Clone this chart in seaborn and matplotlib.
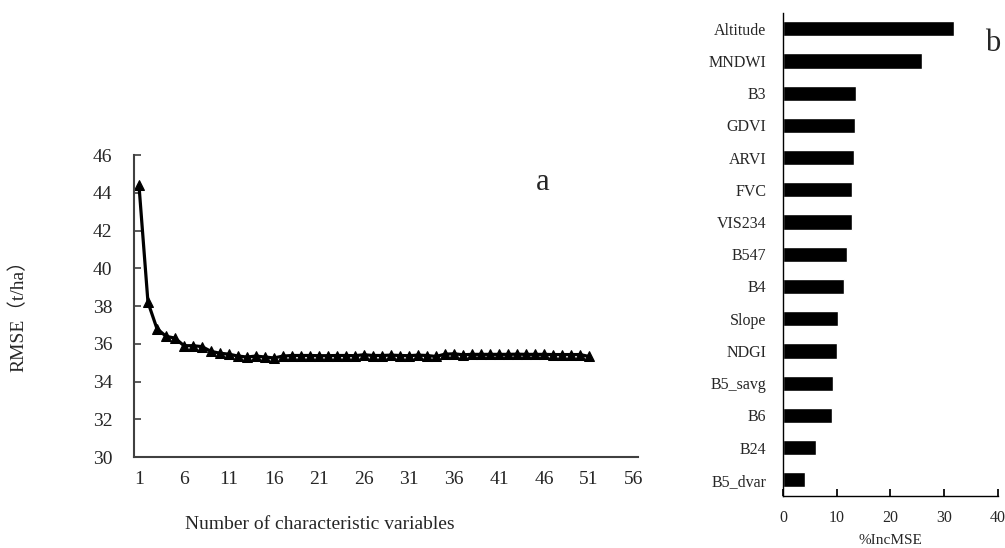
import numpy as np
import pandas as pd
import matplotlib
matplotlib.use("Agg")
import matplotlib.pyplot as plt
from matplotlib.ticker import FixedLocator
import seaborn as sns

# ---- data ----
n_vars = list(range(1, 52))
rmse = [44.4, 38.2, 36.8, 36.4, 36.3, 35.9, 35.9, 35.85, 35.6, 35.5,
        35.45, 35.35, 35.3, 35.35, 35.3, 35.25, 35.35, 35.38, 35.38, 35.38,
        35.37, 35.37, 35.38, 35.38, 35.37, 35.42, 35.38, 35.38, 35.4, 35.38,
        35.37, 35.4, 35.38, 35.33, 35.45, 35.47, 35.42, 35.44, 35.44, 35.44,
        35.44, 35.44, 35.45, 35.44, 35.44, 35.44, 35.43, 35.43, 35.43, 35.43,
        35.33]
variables = ["Altitude", "MNDWI", "B3", "GDVI", "ARVI", "FVC", "VIS234", "B547",
             "B4", "Slope", "NDGI", "B5_savg", "B6", "B24", "B5_dvar"]
inc_mse = [31.8, 25.8, 13.6, 13.4, 13.2, 12.8, 12.8, 12.0,
           11.4, 10.2, 10.0, 9.4, 9.2, 6.2, 4.1]
x_ticks = list(range(1, 57, 5))
y_ticks = list(range(30, 47, 2))
bar_ticks = [0, 10, 20, 30, 40]

sns.set_theme(style="white")
plt.rcParams['font.family'] = ['Liberation Serif', 'Noto Sans CJK SC', 'DejaVu Sans']

fig = plt.figure(figsize=(10.05, 5.48), dpi=100)
ax1 = fig.add_axes([0.1338, 0.166, 0.5015, 0.551])
ax2 = fig.add_axes([0.779, 0.095, 0.214, 0.882])

# ---- line chart ----
df_line = pd.DataFrame({"n": n_vars, "rmse": rmse})
sns.lineplot(data=df_line, x="n", y="rmse", ax=ax1, color="black", linewidth=2.3,
             marker="^", markersize=6.5, markeredgecolor="black")
ax1.set_xlim(0.5, 56.5)
ax1.set_ylim(30, 46)
ax1.set_xticks(x_ticks)
ax1.set_xticklabels([str(t) for t in x_ticks], fontsize=14)
ax1.xaxis.set_minor_locator(FixedLocator([t + 4.5 for t in x_ticks]))
ax1.tick_params(axis="x", which="major", length=0, pad=10)
ax1.tick_params(axis="x", which="minor", length=5, direction="in", color="#404040", width=1.2)
ax1.set_yticks(y_ticks)
ax1.set_yticklabels([str(t) for t in y_ticks], fontsize=14)
ax1.tick_params(axis="y", length=5, direction="in", color="#404040", width=1.2, left=True, pad=16)
for s in ["top", "right"]:
    ax1.spines[s].set_visible(False)
for s in ["left", "bottom"]:
    ax1.spines[s].set_color("#404040")
    ax1.spines[s].set_linewidth(1.5)
ax1.set_xlabel("")
ax1.set_ylabel("")
fig.text(0.318, 0.042, "Number of characteristic variables", ha="center", va="center", fontsize=14)
fig.text(0.018, 0.432, "RMSE（t/ha）", rotation=90, ha="center", va="center", fontsize=14)
fig.text(0.540, 0.667, "a", ha="center", va="center", fontsize=22)

# ---- bar chart ----
df_bar = pd.DataFrame({"var": variables, "inc": inc_mse})
sns.barplot(data=df_bar, x="inc", y="var", order=variables, ax=ax2, color="black",
            orient="h", width=0.47, saturation=1)
ax2.set_xlim(0, 40)
ax2.set_ylim(14.5, -0.5)
ax2.set_xticks(bar_ticks)
ax2.set_xticklabels([str(t) for t in bar_ticks], fontsize=11.5)
ax2.tick_params(axis="x", length=5, direction="in", color="black", bottom=True, pad=10)
ax2.tick_params(axis="y", length=0, labelsize=11.5, pad=12)
for s in ["top", "right"]:
    ax2.spines[s].set_visible(False)
for s in ["left", "bottom"]:
    ax2.spines[s].set_color("black")
    ax2.spines[s].set_linewidth(1.0)
ax2.set_ylabel("")
ax2.set_xlabel("%IncMSE", fontsize=11, labelpad=6)
fig.text(0.988, 0.921, "b", ha="center", va="center", fontsize=22)

fig.savefig("out.png", dpi=100)
